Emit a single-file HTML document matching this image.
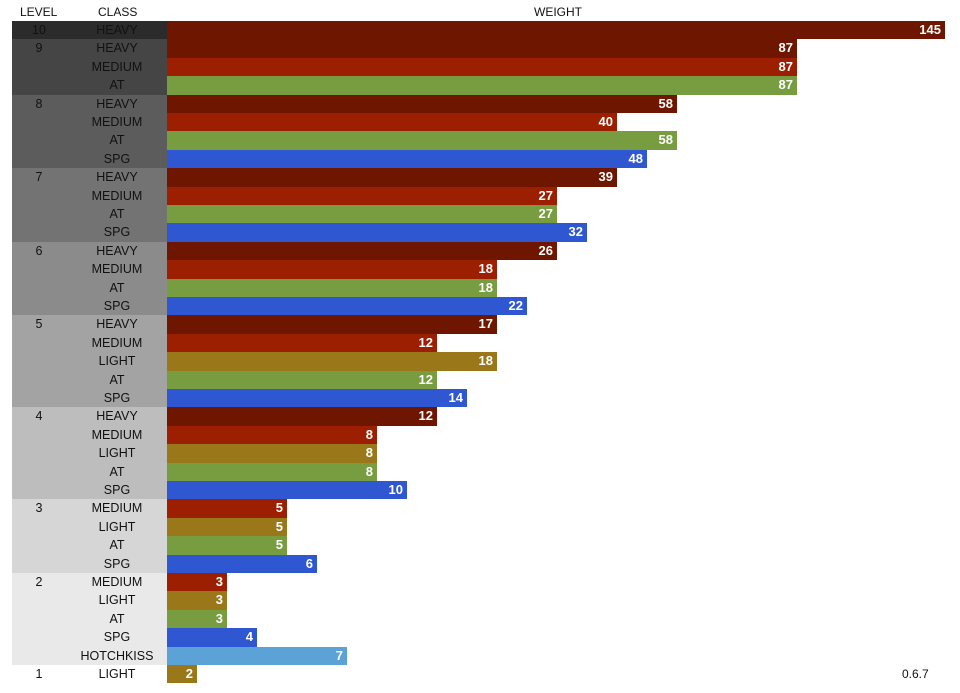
<!DOCTYPE html>
<html><head><meta charset="utf-8"><style>
body{margin:0;width:960px;height:693px;background:#fff;font-family:"Liberation Sans",sans-serif;position:relative;overflow:hidden}
.a{position:absolute}
.h{font-size:12px;color:#111;top:5px}
.bg{left:12px;width:155px}
.t{font-size:12.5px;color:#111;text-align:center;line-height:18px}
.bar{left:167px;height:18.4px;box-sizing:border-box;color:#fff;font-weight:bold;font-size:13px;text-align:right;padding-right:4px;line-height:18px}
</style></head><body>
<div class="a h" style="left:20px">LEVEL</div>
<div class="a h" style="left:98px">CLASS</div>
<div class="a h" style="left:534px">WEIGHT</div>
<div class="a" style="left:902px;top:667px;font-size:12px;color:#111">0.6.7</div>
<div id="c"></div>
<script>
var C={HEAVY:'#6e1600',MEDIUM:'#9b1f00',AT:'#789c40',SPG:'#2f57d1',LIGHT:'#9a781a',HOTCHKISS:'#5ba2d6'};
var W={2:30,3:60,4:90,5:120,6:150,7:180,8:210,10:240,12:270,14:300,17:330,18:330,22:360,26:390,27:390,32:420,39:450,40:450,48:480,58:510,87:630,145:778};
var G=[[10,'#2b2b2b',[['HEAVY',145]]],[9,'#454545',[['HEAVY',87],['MEDIUM',87],['AT',87]]],
[8,'#5c5c5c',[['HEAVY',58],['MEDIUM',40],['AT',58],['SPG',48]]],
[7,'#737373',[['HEAVY',39],['MEDIUM',27],['AT',27],['SPG',32]]],
[6,'#8b8b8b',[['HEAVY',26],['MEDIUM',18],['AT',18],['SPG',22]]],
[5,'#a3a3a3',[['HEAVY',17],['MEDIUM',12],['LIGHT',18],['AT',12],['SPG',14]]],
[4,'#bdbdbd',[['HEAVY',12],['MEDIUM',8],['LIGHT',8],['AT',8],['SPG',10]]],
[3,'#d6d6d6',[['MEDIUM',5],['LIGHT',5],['AT',5],['SPG',6]]],
[2,'#e9e9e9',[['MEDIUM',3],['LIGHT',3],['AT',3],['SPG',4],['HOTCHKISS',7]]],
[1,'#ffffff',[['LIGHT',2]]]];
var h='',r=0,R=18.4,T=21;
G.forEach(function(g){var y=T+r*R;
h+='<div class="a bg" style="top:'+y+'px;height:'+(g[2].length*R)+'px;background:'+g[1]+'"></div>';
h+='<div class="a t" style="left:24px;width:30px;top:'+y+'px">'+g[0]+'</div>';
g[2].forEach(function(b,i){var yy=T+(r+i)*R;
h+='<div class="a t" style="left:67px;width:100px;top:'+yy+'px">'+b[0]+'</div>';
h+='<div class="a bar" style="top:'+yy+'px;width:'+W[b[1]]+'px;background:'+C[b[0]]+'">'+b[1]+'</div>';});
r+=g[2].length;});
document.getElementById('c').innerHTML=h;
</script>
</body></html>
